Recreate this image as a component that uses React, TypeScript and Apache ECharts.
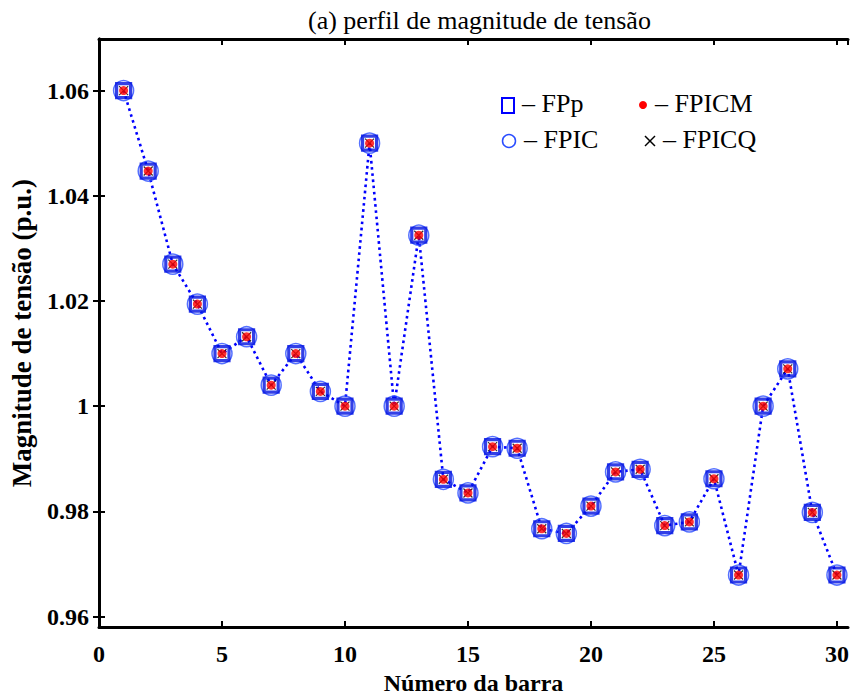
import React, { useEffect, useRef } from "react";
import * as echarts from "echarts";

const buses = [1,2,3,4,5,6,7,8,9,10,11,12,13,14,15,16,17,18,19,20,21,22,23,24,25,26,27,28,29,30];
const fpp = [1.06,1.0447,1.027,1.0194,1.010,1.0132,1.004,1.010,1.0028,1.000,1.050,1.000,1.0325,0.9861,0.9835,0.9923,0.9920,0.9767,0.9758,0.9810,0.9875,0.9880,0.9773,0.9780,0.9862,0.9679,1.000,1.0071,0.9798,0.9679];
const fpic = [1.06,1.0447,1.027,1.0194,1.010,1.0132,1.004,1.010,1.0028,1.000,1.050,1.000,1.0325,0.9861,0.9835,0.9923,0.9920,0.9767,0.9758,0.9810,0.9875,0.9880,0.9773,0.9780,0.9862,0.9679,1.000,1.0071,0.9798,0.9679];
const fpicm = [1.06,1.0447,1.027,1.0194,1.010,1.0132,1.004,1.010,1.0028,1.000,1.050,1.000,1.0325,0.9861,0.9835,0.9923,0.9920,0.9767,0.9758,0.9810,0.9875,0.9880,0.9773,0.9780,0.9862,0.9679,1.000,1.0071,0.9798,0.9679];
const fpicq = [1.06,1.0447,1.027,1.0194,1.010,1.0132,1.004,1.010,1.0028,1.000,1.050,1.000,1.0325,0.9861,0.9835,0.9923,0.9920,0.9767,0.9758,0.9810,0.9875,0.9880,0.9773,0.9780,0.9862,0.9679,1.000,1.0071,0.9798,0.9679];
const yTicks = [0.96, 0.98, 1.0, 1.02, 1.04, 1.06];
const legendNames = ["FPp", "FPICM", "FPIC", "FPICQ"];

const FONT = "Liberation Serif";
const BLUE = "#0000ff";
const CIRCLE_BLUE = "#2a4dff";

const pairs = (ys: number[]) => buses.map((b, i) => [b, ys[i]]);

export default function App() {
  const ref = useRef<HTMLDivElement>(null);
  useEffect(() => {
    if (!ref.current) return;
    const chart = echarts.init(ref.current, null, { renderer: "svg" });
    const axisLine = { show: true, lineStyle: { color: "#000", width: 3 } };
    const tick = { show: true, inside: true, length: 6, lineStyle: { color: "#000", width: 2 } };
    const labelFont = { fontFamily: FONT, fontWeight: "bold" as const, fontSize: 24, color: "#000" };
    const legendText = (x: number, y: number, t: string) => ({
      type: "text", left: x, top: y - 15,
      style: { text: "– " + t, fontFamily: FONT, fontSize: 26, fill: "#000" },
    });
    chart.setOption({
      animation: false,
      backgroundColor: "#fff",
      title: {
        text: "(a) perfil de magnitude de tensão",
        left: 303, top: 2,
        textStyle: { fontFamily: FONT, fontWeight: "normal", fontSize: 26, color: "#000" },
      },
      grid: { left: 99, right: 5, top: 39, bottom: 56 },
      xAxis: [
        {
          type: "value", min: 0, max: 30.45, interval: 5, position: "bottom",
          axisLine, axisTick: tick, splitLine: { show: false },
          axisLabel: { ...labelFont, margin: 15, showMaxLabel: false },
          name: "Número da barra", nameLocation: "middle", nameGap: 41,
          nameTextStyle: { ...labelFont, fontSize: 24 },
        },
        {
          type: "value", min: 0, max: 30.45, interval: 5, position: "top",
          axisLine, axisTick: tick, axisLabel: { show: false }, splitLine: { show: false },
        },
      ],
      yAxis: [
        {
          type: "value", min: 0.958, max: 1.0698, position: "left",
          axisLine, splitLine: { show: false },
          axisTick: { ...tick, customValues: yTicks },
          axisLabel: {
            ...labelFont, margin: 10, customValues: yTicks,
            formatter: (v: number) => String(+v.toFixed(2)),
          },
          name: "Magnitude de tensão (p.u.)", nameLocation: "middle", nameGap: 64,
          nameTextStyle: { ...labelFont, fontSize: 27 },
        },
        {
          type: "value", min: 0.958, max: 1.0698, position: "right",
          axisLine, splitLine: { show: false },
          axisTick: { ...tick, customValues: yTicks },
          axisLabel: { show: false },
        },
      ],
      series: [
        {
          name: "line", type: "line", data: pairs(fpp), symbol: "none", z: 2,
          lineStyle: { color: BLUE, width: 2.6, type: [2.6, 3.6] },
        },
        {
          name: "FPIC", type: "scatter", data: pairs(fpic), symbol: "circle", symbolSize: 20, z: 3,
          itemStyle: { color: "rgba(0,0,0,0)", borderColor: CIRCLE_BLUE, borderWidth: 1.5 },
        },
        {
          name: "FPp", type: "scatter", data: pairs(fpp), symbol: "rect", symbolSize: 14, z: 4,
          itemStyle: { color: "rgba(0,0,0,0)", borderColor: "#0010e0", borderWidth: 3.2 },
        },
        {
          name: "FPICQ", type: "scatter", data: pairs(fpicq), symbol: "path://M0,0L10,10M10,0L0,10", symbolSize: 9, z: 5,
          itemStyle: { color: "none", borderColor: "#000", borderWidth: 1.2 },
        },
        {
          name: "FPICM", type: "scatter", data: pairs(fpicm), symbol: "circle", symbolSize: 9, z: 6,
          itemStyle: { color: "#ff0000" },
        },
      ],
      graphic: [
        { type: "rect", shape: { x: 502, y: 98, width: 12, height: 15 }, style: { fill: "none", stroke: BLUE, lineWidth: 2 } },
        legendText(522, 105, legendNames[0]),
        { type: "circle", shape: { cx: 643, cy: 105, r: 4 }, style: { fill: "#ff0000" } },
        legendText(655, 105, legendNames[1]),
        { type: "circle", shape: { cx: 509, cy: 141, r: 6.5 }, style: { fill: "none", stroke: CIRCLE_BLUE, lineWidth: 1.5 } },
        legendText(524, 141, legendNames[2]),
        { type: "line", shape: { x1: 645, y1: 136, x2: 655, y2: 146 }, style: { stroke: "#000", lineWidth: 1.5 } },
        { type: "line", shape: { x1: 655, y1: 136, x2: 645, y2: 146 }, style: { stroke: "#000", lineWidth: 1.5 } },
        legendText(663, 141, legendNames[3]),
      ],
    });
    return () => chart.dispose();
  }, []);
  return <div ref={ref} style={{ position: "fixed", left: 0, top: 0, width: 853, height: 700 }} />;
}
